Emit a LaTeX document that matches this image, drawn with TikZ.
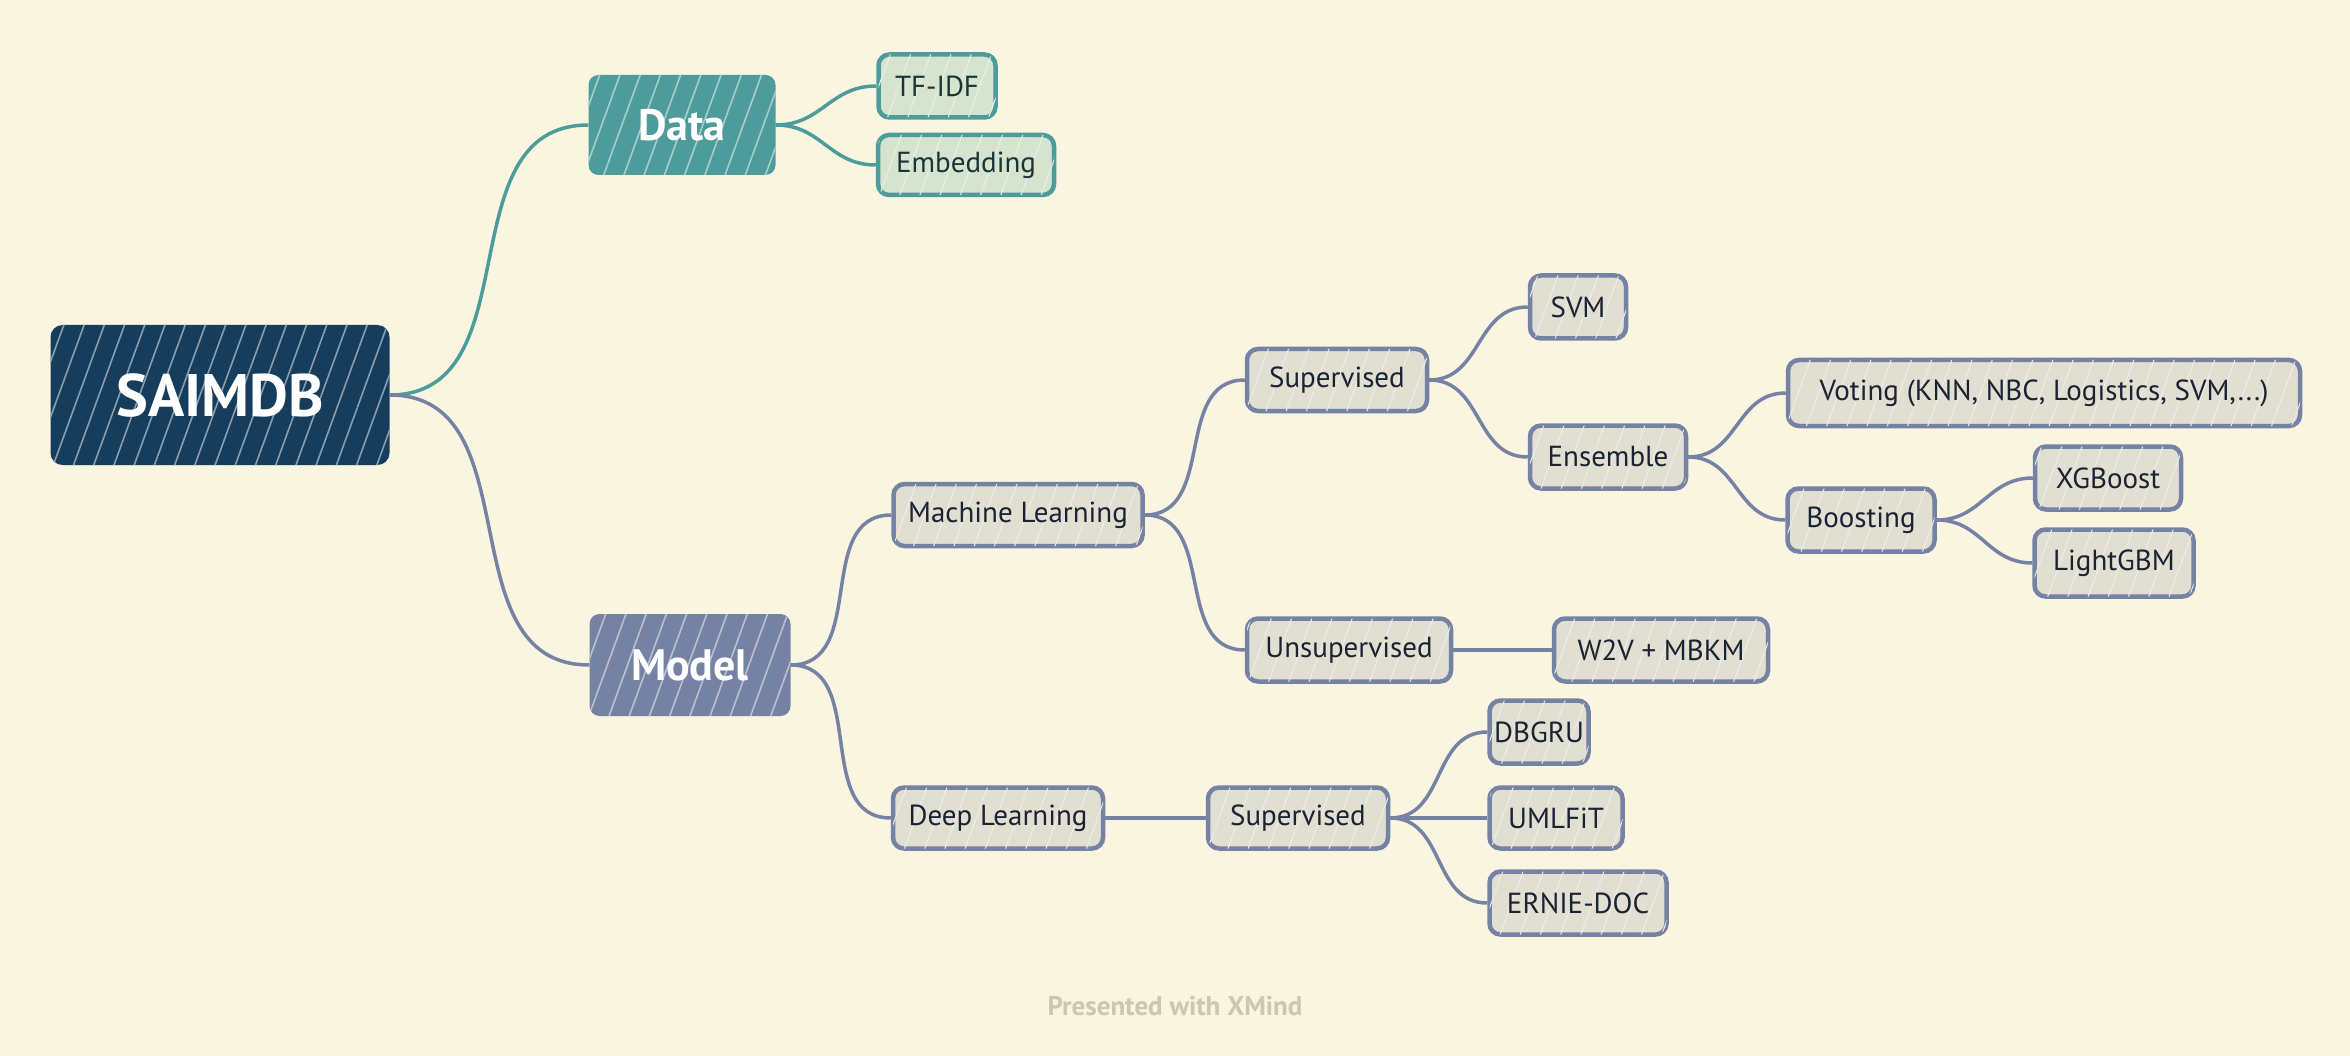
\documentclass[tikz,border=0pt]{standalone}
\usepackage{fontspec}
\setmainfont{PT Sans}
\usetikzlibrary{patterns.meta}
\definecolor{bgc}{HTML}{F9F5E0}
\definecolor{rootc}{HTML}{163D5C}
\definecolor{tealc}{HTML}{4D9C9B}
\definecolor{teallt}{HTML}{D5E3CF}
\definecolor{slatec}{HTML}{7682A4}
\definecolor{slatelt}{HTML}{E0DFD2}
\definecolor{txtc}{HTML}{1B2232}
\definecolor{tealtxt}{HTML}{1A3535}
\definecolor{footc}{HTML}{CAC8B0}
\tikzset{
  hatchmain/.style={postaction={pattern={Lines[angle=70,distance=19pt,line width=1.6pt]},pattern color=#1}},
  rootbox/.style={fill=rootc, rounded corners=12pt, inner sep=0pt, text=white,
    font=\bfseries\fontsize{60}{60}\selectfont, hatchmain=rootc!50!white},
  mainbox/.style={fill=#1, rounded corners=10pt, inner sep=0pt, text=white,
    font=\bfseries\fontsize{44}{44}\selectfont, hatchmain=#1!50!white},
  leafbox/.style={draw=#1, line width=4.5pt, rounded corners=11pt, inner sep=0pt,
    font=\fontsize{29}{29}\selectfont},
  tleaf/.style={leafbox=tealc, fill=teallt, text=tealtxt,
    postaction={pattern={Lines[angle=70,distance=19pt,line width=1pt]},pattern color=teallt!55!white}},
  sleaf/.style={leafbox=slatec, fill=slatelt, text=txtc,
    postaction={pattern={Lines[angle=70,distance=19pt,line width=1pt]},pattern color=slatelt!55!white}},
  tline/.style={draw=tealc, line width=3.5pt},
  sline/.style={draw=slatec, line width=3.5pt},
  conn/.style={out=0,in=180,looseness=1.1}
}
\begin{document}
\begin{tikzpicture}[x=1pt,y=-1pt]
\fill[bgc] (0,0) rectangle (2350,1056);
\useasboundingbox (0,0) rectangle (2350,1056);

% nodes
\node[rootbox, minimum width=339pt, minimum height=140pt] (root) at (220,395) {SAIMDB};
\node[mainbox=tealc, minimum width=187pt, minimum height=100pt] (data) at (682,125) {Data};
\node[mainbox=slatec, minimum width=201pt, minimum height=102pt] (model) at (690,665) {Model};

\node[tleaf, minimum width=117pt, minimum height=63pt] (tfidf) at (937,86) {TF-IDF};
\node[tleaf, minimum width=176pt, minimum height=60pt] (emb) at (966,165) {Embedding};

\node[sleaf, minimum width=249pt, minimum height=62pt] (ml) at (1018,515) {Machine Learning};
\node[sleaf, minimum width=210pt, minimum height=61pt] (dl) at (998,818) {Deep Learning};
\node[sleaf, minimum width=180pt, minimum height=62pt] (supml) at (1337,380) {Supervised};
\node[sleaf, minimum width=204pt, minimum height=63pt] (unsup) at (1349,650) {Unsupervised};
\node[sleaf, minimum width=96pt, minimum height=63pt] (svm) at (1578,307) {SVM};
\node[sleaf, minimum width=156pt, minimum height=63pt] (ens) at (1608,457) {Ensemble};
\node[sleaf, minimum width=512pt, minimum height=66pt] (vote) at (2044,393) {Voting (KNN, NBC, Logistics, SVM,...)};
\node[sleaf, minimum width=147pt, minimum height=63pt] (boost) at (1861,520) {Boosting};
\node[sleaf, minimum width=146pt, minimum height=63pt] (xgb) at (2108,478) {XGBoost};
\node[sleaf, minimum width=159pt, minimum height=67pt] (lgbm) at (2114,563) {LightGBM};
\node[sleaf, minimum width=214pt, minimum height=63pt] (w2v) at (1661,650) {W2V + MBKM};
\node[sleaf, minimum width=180pt, minimum height=61pt] (supdl) at (1298,818) {Supervised};
\node[sleaf, minimum width=99pt, minimum height=63pt] (dbgru) at (1539,732) {DBGRU};
\node[sleaf, minimum width=133pt, minimum height=61pt] (umlfit) at (1556,818) {UMLFiT};
\node[sleaf, minimum width=177pt, minimum height=63pt] (ernie) at (1578,903) {ERNIE-DOC};

\node[text=footc, font=\bfseries\fontsize{27}{27}\selectfont] (foot) at (1175,1006) {Presented with XMind};

% connectors
\draw[tline] (root.east) to[conn] (data.west);
\draw[sline] (root.east) to[conn] (model.west);
\draw[tline] (data.east) to[conn] (tfidf.west);
\draw[tline] (data.east) to[conn] (emb.west);
\draw[sline] (model.east) to[conn] (ml.west);
\draw[sline] (model.east) to[conn] (dl.west);
\draw[sline] (ml.east) to[conn] (supml.west);
\draw[sline] (ml.east) to[conn] (unsup.west);
\draw[sline] (supml.east) to[conn] (svm.west);
\draw[sline] (supml.east) to[conn] (ens.west);
\draw[sline] (ens.east) to[conn] (vote.west);
\draw[sline] (ens.east) to[conn] (boost.west);
\draw[sline] (boost.east) to[conn] (xgb.west);
\draw[sline] (boost.east) to[conn] (lgbm.west);
\draw[sline] (unsup.east) -- (w2v.west);
\draw[sline] (dl.east) -- (supdl.west);
\draw[sline] (supdl.east) to[conn] (dbgru.west);
\draw[sline] (supdl.east) -- (umlfit.west);
\draw[sline] (supdl.east) to[conn] (ernie.west);
\end{tikzpicture}
\end{document}
